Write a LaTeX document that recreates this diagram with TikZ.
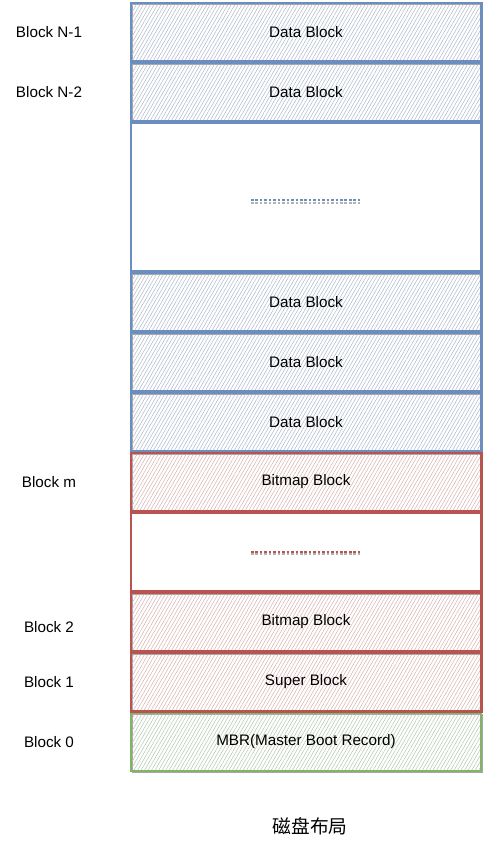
\documentclass[tikz,border=0pt]{standalone}
\usepackage{fontspec}
\setmainfont{Liberation Sans}
\newfontfamily\cjk{Noto Sans CJK SC}
\usepackage{tikz}
\usetikzlibrary{positioning, fit, patterns.meta}
\definecolor{mBlueLine}{HTML}{6C8EBF}
\definecolor{mBlueHatch}{HTML}{AFBBCC}
\definecolor{mRedLine}{HTML}{B85450}
\definecolor{mRedHatch}{HTML}{D8B3B1}
\definecolor{mGreenLine}{HTML}{82B366}
\definecolor{mGreenHatch}{HTML}{B5C8B0}

\begin{document}
\begin{tikzpicture}[
    font=\fontsize{13}{15}\selectfont,
    blk/.style={minimum width=10.5cm, minimum height=1.74cm, line width=0.9pt, outer sep=0pt,
      preaction={draw=gray!70, line width=0.4pt, transform canvas={shift={(0.04cm,-0.05cm)}}}},
    blueblk/.style={blk, draw=mBlueLine, pattern={Lines[angle=60, distance=2.6pt, line width=0.45pt]}, pattern color=mBlueHatch},
    redblk/.style={blk, draw=mRedLine, pattern={Lines[angle=60, distance=2.6pt, line width=0.45pt]}, pattern color=mRedHatch},
    greenblk/.style={blk, draw=mGreenLine, pattern={Lines[angle=60, distance=2.6pt, line width=0.45pt]}, pattern color=mGreenHatch},
    gapblk/.style={blk, fill=white},
    lbl/.style={anchor=center},
    dots/.style={line width=1.6pt, dash pattern=on 2.2pt off 1.6pt}
  ]
  \useasboundingbox (0, 0) rectangle (14.52, -25.32);

  % data area
  \node[blueblk, anchor=north west] (dn1) at (3.93, -0.09) {Data Block};
  \node[blueblk, below=0.06cm of dn1] (dn2) {Data Block};
  \node[gapblk, draw=mBlueLine, minimum height=4.44cm, below=0.06cm of dn2] (gapd) {};
  \node[blueblk, below=0.06cm of gapd] (d3) {Data Block};
  \node[blueblk, below=0.06cm of d3] (d2) {Data Block};
  \node[blueblk, below=0.06cm of d2] (d1) {Data Block};

  % bitmap area
  \node[redblk, below=0.06cm of d1] (bm) {Bitmap Block};
  \node[gapblk, draw=mRedLine, minimum height=2.34cm, below=0.06cm of bm] (gapb) {};
  \node[redblk, below=0.06cm of gapb] (b2) {Bitmap Block};
  \node[redblk, below=0.06cm of b2] (sb) {Super Block};
  \node[greenblk, below=0.06cm of sb] (mbr) {MBR(Master Boot Record)};

  % sketchy group frames
  \node[fit=(dn1)(d1), inner sep=0.8pt, draw=mBlueLine, line width=0.5pt] (grpd) {};
  \node[fit=(bm)(sb), inner sep=0.8pt, draw=mRedLine, line width=0.5pt] (grpb) {};

  % ellipsis marks
  \draw[dots, gray!60] ([xshift=-1.65cm, yshift=-0.17cm]gapd.center) -- ([xshift=1.65cm, yshift=-0.17cm]gapd.center);
  \draw[dots, mBlueLine] ([xshift=-1.65cm, yshift=-0.1cm]gapd.center) -- ([xshift=1.65cm, yshift=-0.1cm]gapd.center);
  \draw[dots, gray!60] ([xshift=-1.65cm, yshift=-0.07cm]gapb.center) -- ([xshift=1.65cm, yshift=-0.07cm]gapb.center);
  \draw[dots, mRedLine] ([xshift=-1.65cm]gapb.center) -- ([xshift=1.65cm]gapb.center);

  % block numbers
  \coordinate (lblx) at (1.47, 0);
  \node[lbl] (ln1) at (dn1 -| lblx) {Block N-1};
  \node[lbl] (ln2) at (dn2 -| lblx) {Block N-2};
  \node[lbl] (lm) at (bm -| lblx) {Block m};
  \node[lbl] (l2) at ([yshift=-0.15cm]b2.center -| lblx) {Block 2};
  \node[lbl] (l1) at (sb -| lblx) {Block 1};
  \node[lbl] (l0) at (mbr -| lblx) {Block 0};

  \node[font=\cjk\fontsize{16}{18}\selectfont] (cap) at (9.3, -24.78) {磁盘布局};
\end{tikzpicture}
\end{document}
